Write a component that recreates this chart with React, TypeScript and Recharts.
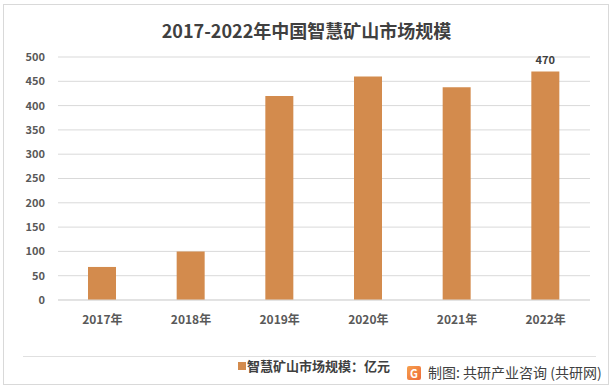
import React from "react";
import { BarChart, Bar, XAxis, YAxis, CartesianGrid, LabelList } from "recharts";

const categories = ["2017年", "2018年", "2019年", "2020年", "2021年", "2022年"];
const marketSize = [68, 100, 420, 460, 438, 470];
const yTicks = [0, 50, 100, 150, 200, 250, 300, 350, 400, 450, 500];
const titleText = "2017-2022年中国智慧矿山市场规模";
const seriesName = "智慧矿山市场规模：亿元";
const sourceText = "制图: 共研产业咨询 (共研网)";

const data = categories.map((c, i) => ({ year: c, value: marketSize[i] }));

const FONT = "'Noto Sans CJK SC', 'Noto Sans', sans-serif";
const BAR_COLOR = "#D38B4D";

export default function App() {
  return (
    <div style={{ position: "absolute", left: 0, top: 0, width: 613, height: 390, background: "#fff", fontFamily: FONT }}>
      <div style={{ position: "absolute", left: 3, top: 4, width: 604, height: 379, border: "1px solid #d9d9d9" }} />
      <div style={{ position: "absolute", left: 0, top: 17, width: 613, textAlign: "center", fontSize: 18, fontWeight: 700, color: "#404040", lineHeight: "26px" }}>
        {titleText}
      </div>
      <div style={{ position: "absolute", left: 0, top: 0 }}>
        <BarChart width={613} height={390} data={data} margin={{ top: 57, right: 23, left: 0, bottom: 60 }}>
          <CartesianGrid vertical={false} stroke="#d9d9d9" />
          <XAxis
            dataKey="year"
            height={30}
            axisLine={{ stroke: "#d9d9d9" }}
            tickLine={false}
            tickMargin={9}
            tick={{ fill: "#595959", fontSize: 12, fontWeight: 600, fontFamily: FONT }}
          />
          <YAxis
            width={58}
            domain={[0, 500]}
            ticks={yTicks}
            axisLine={false}
            tickLine={false}
            tickMargin={7}
            tick={{ fill: "#595959", fontSize: 11, fontWeight: 600, fontFamily: FONT }}
          />
          <Bar dataKey="value" name={seriesName} fill={BAR_COLOR} barSize={28} isAnimationActive={false}>
            <LabelList
              dataKey="value"
              position="top"
              content={(props: any) => {
                const { x, y, width, value, index } = props;
                if (index !== data.length - 1) return null;
                return (
                  <text x={x + width / 2} y={y - 8} textAnchor="middle" fill="#404040" fontSize={11} fontWeight={700} fontFamily={FONT}>
                    {value}
                  </text>
                );
              }}
            />
          </Bar>
        </BarChart>
      </div>
      <div style={{ position: "absolute", left: 23, top: 356, width: 573, height: 1, background: "#e0e0e0" }} />
      <div style={{ position: "absolute", left: 238, top: 362, width: 8, height: 8, background: BAR_COLOR }} />
      <div style={{ position: "absolute", left: 247, top: 356, fontSize: 13, fontWeight: 600, color: "#404040", lineHeight: "20px", whiteSpace: "nowrap" }}>
        {seriesName}
      </div>
      <div style={{ position: "absolute", left: 407, top: 366, width: 14, height: 14, borderRadius: 2, background: "linear-gradient(135deg, #f6a04d, #ee6a3a)", color: "#fff", fontSize: 11, fontWeight: 700, lineHeight: "14px", textAlign: "center" }}>
        G
      </div>
      <div style={{ position: "absolute", left: 428, top: 362, fontSize: 14, color: "#404040", lineHeight: "20px", whiteSpace: "nowrap" }}>
        {sourceText}
      </div>
    </div>
  );
}
